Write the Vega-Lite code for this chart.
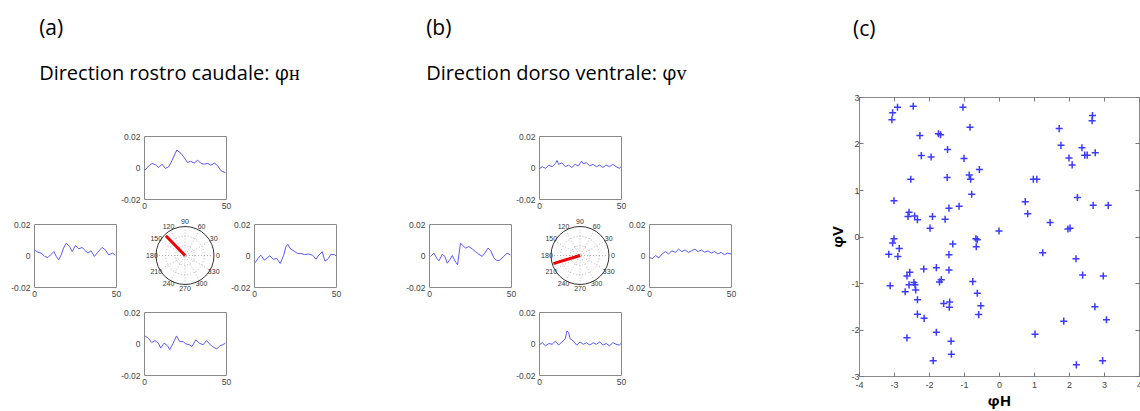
{
  "$schema": "https://vega.github.io/schema/vega-lite/v6.json",
  "background": "white",
  "padding": {"left": 10, "top": 18, "right": 0, "bottom": 0},
  "config": {
    "view": {"stroke": "#8a8a8a", "strokeWidth": 1},
    "axis": {"grid": false, "domain": false, "ticks": false, "title": null, "labelFont": "Liberation Sans", "labelColor": "#444", "labelFlush": false, "labelOverlap": false},
    "title": {"font": "Open Sans", "fontSize": 21, "fontWeight": "normal", "color": "black", "anchor": "start", "subtitleFont": "Open Sans", "subtitleFontSize": 20, "subtitleColor": "black", "subtitlePadding": 25}
  },
  "datasets": {
    "tr": [
      {"p":"ta","t":0.6,"v":-0.0017},{"p":"ta","t":3,"v":0.0011},{"p":"ta","t":5,"v":0.0026},{"p":"ta","t":7,"v":0.0017},{"p":"ta","t":9,"v":0.0},{"p":"ta","t":11,"v":0.0021},{"p":"ta","t":13,"v":-0.0006},{"p":"ta","t":15,"v":0.0004},{"p":"ta","t":17,"v":0.0043},{"p":"ta","t":20,"v":0.0111},{"p":"ta","t":22.5,"v":0.009},{"p":"ta","t":24.5,"v":0.0064},{"p":"ta","t":26.5,"v":0.0032},{"p":"ta","t":28.5,"v":0.0039},{"p":"ta","t":30.6,"v":0.0028},{"p":"ta","t":32.7,"v":0.0047},{"p":"ta","t":34.7,"v":0.0026},{"p":"ta","t":36.7,"v":0.0021},{"p":"ta","t":38.8,"v":0.0026},{"p":"ta","t":40.8,"v":0.0015},{"p":"ta","t":42.9,"v":0.0028},{"p":"ta","t":44.9,"v":0.0011},{"p":"ta","t":47,"v":-0.0021},{"p":"ta","t":49.6,"v":-0.0032},
      {"p":"la","t":0,"v":0.0036},{"p":"la","t":2.4,"v":0.0021},{"p":"la","t":4.5,"v":0.0015},{"p":"la","t":6.5,"v":-0.0006},{"p":"la","t":8.5,"v":-0.0013},{"p":"la","t":10.5,"v":0.0008},{"p":"la","t":12.1,"v":0.0025},{"p":"la","t":13.6,"v":-0.0006},{"p":"la","t":15,"v":-0.0028},{"p":"la","t":16.6,"v":0.0004},{"p":"la","t":18,"v":0.0047},{"p":"la","t":19.6,"v":0.0078},{"p":"la","t":21.7,"v":0.0057},{"p":"la","t":23.3,"v":0.0025},{"p":"la","t":25.3,"v":0.0064},{"p":"la","t":27.3,"v":0.0042},{"p":"la","t":29.3,"v":0.0051},{"p":"la","t":31.4,"v":0.003},{"p":"la","t":32.8,"v":0.0015},{"p":"la","t":34.8,"v":0.003},{"p":"la","t":36.8,"v":-0.0006},{"p":"la","t":38.9,"v":0.0021},{"p":"la","t":41.5,"v":0.0051},{"p":"la","t":43.5,"v":0.0036},{"p":"la","t":45.5,"v":0.0004},{"p":"la","t":48,"v":0.0015},{"p":"la","t":49.6,"v":0.0},
      {"p":"ra","t":0.6,"v":-0.0047},{"p":"ra","t":2.7,"v":-0.0015},{"p":"ra","t":4.2,"v":0.0002},{"p":"ra","t":6.3,"v":-0.003},{"p":"ra","t":8,"v":-0.0015},{"p":"ra","t":9.7,"v":-0.0002},{"p":"ra","t":11.8,"v":-0.0024},{"p":"ra","t":13.9,"v":-0.0019},{"p":"ra","t":16,"v":-0.0051},{"p":"ra","t":18.1,"v":0.0002},{"p":"ra","t":19.5,"v":0.0056},{"p":"ra","t":20.6,"v":0.0071},{"p":"ra","t":22.3,"v":0.0041},{"p":"ra","t":24.4,"v":0.0028},{"p":"ra","t":26.5,"v":0.0013},{"p":"ra","t":28.6,"v":0.0013},{"p":"ra","t":30.7,"v":0.0006},{"p":"ra","t":33.2,"v":0.0009},{"p":"ra","t":35.7,"v":0.0002},{"p":"ra","t":37.8,"v":-0.0024},{"p":"ra","t":39.5,"v":0.0002},{"p":"ra","t":41.6,"v":0.0024},{"p":"ra","t":43.3,"v":-0.0036},{"p":"ra","t":45.4,"v":-0.0019},{"p":"ra","t":46.8,"v":0.0006},{"p":"ra","t":48.9,"v":0.0006},{"p":"ra","t":50,"v":-0.0002},
      {"p":"ba","t":0.6,"v":0.0048},{"p":"ba","t":2.7,"v":0.0033},{"p":"ba","t":4.7,"v":0.0006},{"p":"ba","t":6.7,"v":0.0019},{"p":"ba","t":8.8,"v":0.0002},{"p":"ba","t":10.2,"v":-0.0029},{"p":"ba","t":12.2,"v":0.0002},{"p":"ba","t":14.3,"v":-0.0014},{"p":"ba","t":15.7,"v":-0.0039},{"p":"ba","t":17.8,"v":0.0002},{"p":"ba","t":19.8,"v":0.0048},{"p":"ba","t":21.8,"v":0.0012},{"p":"ba","t":23.9,"v":0.0012},{"p":"ba","t":25.5,"v":-0.0002},{"p":"ba","t":27.6,"v":-0.0008},{"p":"ba","t":29.2,"v":-0.0019},{"p":"ba","t":31.6,"v":0.0023},{"p":"ba","t":33.7,"v":0.0002},{"p":"ba","t":36.1,"v":-0.0008},{"p":"ba","t":38.2,"v":0.0019},{"p":"ba","t":39.8,"v":-0.0002},{"p":"ba","t":41.8,"v":-0.0019},{"p":"ba","t":44.3,"v":-0.0035},{"p":"ba","t":46.3,"v":-0.0014},{"p":"ba","t":48,"v":-0.0008},{"p":"ba","t":49.6,"v":0.0002},
      {"p":"tb","t":0,"v":-0.001},{"p":"tb","t":2,"v":0.0005},{"p":"tb","t":4,"v":-0.0005},{"p":"tb","t":6,"v":0.0015},{"p":"tb","t":8,"v":0.0005},{"p":"tb","t":10,"v":0.0025},{"p":"tb","t":11,"v":0.0045},{"p":"tb","t":12,"v":0.002},{"p":"tb","t":14,"v":0.003},{"p":"tb","t":16,"v":0.0005},{"p":"tb","t":18,"v":0.0015},{"p":"tb","t":20,"v":0.0},{"p":"tb","t":22,"v":0.002},{"p":"tb","t":24,"v":0.001},{"p":"tb","t":26,"v":0.004},{"p":"tb","t":27,"v":0.0025},{"p":"tb","t":29,"v":0.003},{"p":"tb","t":31,"v":0.001},{"p":"tb","t":33,"v":0.002},{"p":"tb","t":35,"v":0.0005},{"p":"tb","t":37,"v":0.0015},{"p":"tb","t":39,"v":0.0},{"p":"tb","t":41,"v":0.0015},{"p":"tb","t":43,"v":0.0005},{"p":"tb","t":45,"v":0.002},{"p":"tb","t":47,"v":0.0005},{"p":"tb","t":49,"v":-0.0005},{"p":"tb","t":50,"v":0.0005},
      {"p":"lb","t":1,"v":-0.0006},{"p":"lb","t":3,"v":0.0015},{"p":"lb","t":4.7,"v":-0.0017},{"p":"lb","t":6.1,"v":-0.0034},{"p":"lb","t":8.1,"v":0.0008},{"p":"lb","t":9.7,"v":-0.0006},{"p":"lb","t":11.1,"v":-0.0049},{"p":"lb","t":12.6,"v":-0.0028},{"p":"lb","t":14.2,"v":0.0},{"p":"lb","t":15.8,"v":-0.0034},{"p":"lb","t":17.4,"v":-0.0059},{"p":"lb","t":19.2,"v":0.0078},{"p":"lb","t":20.6,"v":0.0064},{"p":"lb","t":22.3,"v":0.0047},{"p":"lb","t":24.3,"v":0.0057},{"p":"lb","t":26.3,"v":0.0042},{"p":"lb","t":28.3,"v":0.0025},{"p":"lb","t":30.4,"v":0.0008},{"p":"lb","t":32.4,"v":-0.0006},{"p":"lb","t":34,"v":0.0015},{"p":"lb","t":36,"v":0.0047},{"p":"lb","t":37.7,"v":0.003},{"p":"lb","t":39.5,"v":-0.0013},{"p":"lb","t":41.5,"v":-0.0034},{"p":"lb","t":43.5,"v":-0.0028},{"p":"lb","t":45.5,"v":-0.0006},{"p":"lb","t":47.6,"v":0.0015},{"p":"lb","t":49.6,"v":0.0004},
      {"p":"rb","t":0,"v":-0.001},{"p":"rb","t":2,"v":-0.002},{"p":"rb","t":4,"v":0.0},{"p":"rb","t":6,"v":-0.0015},{"p":"rb","t":8,"v":0.001},{"p":"rb","t":10,"v":0.0025},{"p":"rb","t":12,"v":0.001},{"p":"rb","t":14,"v":0.003},{"p":"rb","t":16,"v":0.002},{"p":"rb","t":18,"v":0.004},{"p":"rb","t":20,"v":0.0025},{"p":"rb","t":22,"v":0.0035},{"p":"rb","t":24,"v":0.002},{"p":"rb","t":26,"v":0.003},{"p":"rb","t":28,"v":0.004},{"p":"rb","t":30,"v":0.0025},{"p":"rb","t":32,"v":0.0035},{"p":"rb","t":34,"v":0.002},{"p":"rb","t":36,"v":0.003},{"p":"rb","t":38,"v":0.0015},{"p":"rb","t":40,"v":0.0025},{"p":"rb","t":42,"v":0.001},{"p":"rb","t":44,"v":0.002},{"p":"rb","t":46,"v":0.0005},{"p":"rb","t":48,"v":0.0015},{"p":"rb","t":50,"v":0.001},
      {"p":"bb","t":0,"v":-0.001},{"p":"bb","t":2,"v":0.0005},{"p":"bb","t":4,"v":-0.0015},{"p":"bb","t":6,"v":0.0},{"p":"bb","t":8,"v":-0.0005},{"p":"bb","t":10,"v":0.0015},{"p":"bb","t":12,"v":-0.001},{"p":"bb","t":14,"v":0.001},{"p":"bb","t":16,"v":0.003},{"p":"bb","t":17,"v":0.008},{"p":"bb","t":18,"v":0.007},{"p":"bb","t":19,"v":0.003},{"p":"bb","t":21,"v":0.0015},{"p":"bb","t":23,"v":-0.001},{"p":"bb","t":25,"v":0.001},{"p":"bb","t":27,"v":-0.0005},{"p":"bb","t":29,"v":0.0005},{"p":"bb","t":31,"v":-0.001},{"p":"bb","t":33,"v":0.0005},{"p":"bb","t":35,"v":-0.0005},{"p":"bb","t":37,"v":0.001},{"p":"bb","t":39,"v":-0.001},{"p":"bb","t":41,"v":0.0},{"p":"bb","t":43,"v":-0.0015},{"p":"bb","t":45,"v":0.0005},{"p":"bb","t":47,"v":-0.0005},{"p":"bb","t":49,"v":-0.001},{"p":"bb","t":50,"v":0.0}
    ],
    "spokes": [
      {"x":-1,"y":0,"x2":1,"y2":0},{"x":-0.866,"y":-0.5,"x2":0.866,"y2":0.5},{"x":-0.5,"y":-0.866,"x2":0.5,"y2":0.866},
      {"x":0,"y":-1,"x2":0,"y2":1},{"x":0.5,"y":-0.866,"x2":-0.5,"y2":0.866},{"x":0.866,"y":-0.5,"x2":-0.866,"y2":0.5}
    ],
    "plabels": [
      {"l":"0","x":1.14,"y":0},{"l":"30","x":0.99,"y":0.57},{"l":"60","x":0.57,"y":0.99},{"l":"90","x":0,"y":1.14},
      {"l":"120","x":-0.57,"y":0.99},{"l":"150","x":-0.99,"y":0.57},{"l":"180","x":-1.14,"y":0},{"l":"210","x":-0.99,"y":-0.57},
      {"l":"240","x":-0.57,"y":-0.99},{"l":"270","x":0,"y":-1.14},{"l":"300","x":0.57,"y":-0.99},{"l":"330","x":0.99,"y":-0.57}
    ],
    "origin": [{"x":0,"y":0}],
    "sc": [
      {"h":-2.90,"v":2.78},{"h":-3.04,"v":2.66},{"h":-3.06,"v":2.51},{"h":-2.45,"v":2.80},{"h":-1.03,"v":2.78},{"h":-2.26,"v":2.17},{"h":-1.73,"v":2.21},{"h":-1.67,"v":2.19},{"h":-0.83,"v":2.35},{"h":-2.22,"v":1.74},{"h":-1.94,"v":1.71},{"h":-1.47,"v":1.87},{"h":-1.00,"v":1.68},{"h":-0.56,"v":1.44},{"h":-0.85,"v":1.32},{"h":-0.81,"v":1.23},{"h":-2.52,"v":1.23},{"h":-1.48,"v":1.27},{"h":-0.78,"v":0.91},{"h":-3.00,"v":0.77},{"h":-1.14,"v":0.65},{"h":-1.43,"v":0.61},{"h":-2.57,"v":0.52},{"h":-2.60,"v":0.43},{"h":-2.41,"v":0.44},{"h":-2.33,"v":0.36},{"h":-1.90,"v":0.43},{"h":-1.54,"v":0.37},{"h":-1.97,"v":0.18},{"h":-3.00,"v":-0.05},{"h":-3.04,"v":-0.14},{"h":-2.85,"v":-0.26},{"h":-3.15,"v":-0.38},{"h":-2.89,"v":-0.43},{"h":-1.32,"v":-0.16},{"h":-1.43,"v":-0.39},{"h":-0.66,"v":-0.05},{"h":-0.62,"v":-0.07},{"h":-0.65,"v":-0.22},{"h":-2.63,"v":-0.85},{"h":-2.55,"v":-0.77},{"h":-2.15,"v":-0.70},{"h":-1.79,"v":-0.67},{"h":-1.43,"v":-0.72},{"h":-2.43,"v":-0.99},{"h":-2.40,"v":-1.04},{"h":-2.57,"v":-1.04},{"h":-2.38,"v":-1.15},{"h":-2.68,"v":-1.19},{"h":-3.11,"v":-1.06},{"h":-1.70,"v":-0.98},{"h":-1.65,"v":-0.93},{"h":-0.75,"v":-0.97},{"h":-2.33,"v":-1.36},{"h":-1.58,"v":-1.44},{"h":-1.41,"v":-1.41},{"h":-1.42,"v":-1.52},{"h":-0.62,"v":-1.22},{"h":-0.52,"v":-1.49},{"h":-0.58,"v":-1.68},{"h":-2.33,"v":-1.67},{"h":-2.14,"v":-1.76},{"h":-2.63,"v":-2.18},{"h":-1.79,"v":-2.06},{"h":-1.37,"v":-2.25},{"h":-1.36,"v":-2.53},{"h":-1.88,"v":-2.67},{"h":0.00,"v":0.12},{"h":0.98,"v":1.23},{"h":1.08,"v":1.23},{"h":0.75,"v":0.75},{"h":0.82,"v":0.49},{"h":1.46,"v":0.30},{"h":1.25,"v":-0.35},{"h":1.03,"v":-2.10},{"h":1.72,"v":2.32},{"h":1.77,"v":1.96},{"h":2.00,"v":1.69},{"h":2.09,"v":1.54},{"h":2.37,"v":1.91},{"h":2.45,"v":1.75},{"h":2.52,"v":1.75},{"h":2.75,"v":1.80},{"h":2.67,"v":2.60},{"h":2.66,"v":2.49},{"h":2.24,"v":0.84},{"h":2.69,"v":0.67},{"h":3.12,"v":0.67},{"h":1.97,"v":0.16},{"h":2.03,"v":0.18},{"h":2.20,"v":-0.48},{"h":2.39,"v":-0.83},{"h":2.98,"v":-0.85},{"h":2.74,"v":-1.51},{"h":3.07,"v":-1.79},{"h":1.85,"v":-1.82},{"h":2.21,"v":-2.76},{"h":2.96,"v":-2.67}
    ]
  },
  "hconcat": [
    {
      "hconcat": [
        {
          "title": {"text": "(a)", "subtitle": "Direction rostro caudale: φʜ", "offset": 13, "dx": 29},
          "spacing": 0,
          "vconcat": [
            {"width": 82, "height": 34, "data": {"name": "origin"}, "mark": {"type": "point", "opacity": 0}, "encoding": {}, "view": {"stroke": null}},
            {
              "columns": 3, "spacing": {"row": 25, "column": 28}, "bounds": "flush",
              "concat": [
                {"width": 82, "height": 63, "data": {"name": "origin"}, "mark": {"type": "point", "opacity": 0}, "encoding": {}, "view": {"stroke": null}},
                {"width": 82, "height": 63, "data": {"name": "tr"}, "transform": [{"filter": "datum.p === 'ta'"}], "mark": {"type": "line", "color": "#5a5aff", "strokeWidth": 1}, "encoding": {"x": {"field": "t", "type": "quantitative", "scale": {"domain": [0, 50], "nice": false}, "axis": {"values": [0, 50], "labelFontSize": 8.5, "labelPadding": 2, "labelExpr": "'' + datum.value"}}, "y": {"field": "v", "type": "quantitative", "scale": {"domain": [-0.02, 0.02], "nice": false}, "axis": {"values": [-0.02, 0, 0.02], "labelFontSize": 8.5, "labelPadding": 4, "labelExpr": "'' + datum.value"}}}},
                {"width": 82, "height": 63, "data": {"name": "origin"}, "mark": {"type": "point", "opacity": 0}, "encoding": {}, "view": {"stroke": null}},
                {"width": 82, "height": 63, "data": {"name": "tr"}, "transform": [{"filter": "datum.p === 'la'"}], "mark": {"type": "line", "color": "#5a5aff", "strokeWidth": 1}, "encoding": {"x": {"field": "t", "type": "quantitative", "scale": {"domain": [0, 50], "nice": false}, "axis": {"values": [0, 50], "labelFontSize": 8.5, "labelPadding": 2, "labelExpr": "'' + datum.value"}}, "y": {"field": "v", "type": "quantitative", "scale": {"domain": [-0.02, 0.02], "nice": false}, "axis": {"values": [-0.02, 0, 0.02], "labelFontSize": 8.5, "labelPadding": 4, "labelExpr": "'' + datum.value"}}}},
                {
                  "width": 82, "height": 63, "view": {"stroke": null},
                  "encoding": {"x": {"field": "x", "type": "quantitative", "scale": {"domain": [-1.414, 1.414], "nice": false, "zero": false}, "axis": null}, "y": {"field": "y", "type": "quantitative", "scale": {"domain": [-1.086, 1.086], "nice": false, "zero": false}, "axis": null}},
                  "layer": [
                    {"data": {"name": "spokes"}, "mark": {"type": "rule", "color": "#999", "strokeWidth": 0.7, "strokeDash": [1, 2]}, "encoding": {"x2": {"field": "x2"}, "y2": {"field": "y2"}}},
                    {"data": {"name": "origin"}, "mark": {"type": "point", "shape": "circle", "filled": false, "size": 376, "color": "#999", "strokeWidth": 0.7, "strokeDash": [1, 2], "opacity": 1}},
                    {"data": {"name": "origin"}, "mark": {"type": "point", "shape": "circle", "filled": false, "size": 1490, "color": "#999", "strokeWidth": 0.7, "strokeDash": [1, 2], "opacity": 1}},
                    {"data": {"name": "origin"}, "mark": {"type": "point", "shape": "circle", "filled": false, "size": 3364, "color": "#333", "strokeWidth": 1, "opacity": 1}},
                    {"data": {"name": "plabels"}, "mark": {"type": "text", "fontSize": 7, "font": "Liberation Sans", "color": "#333"}, "encoding": {"text": {"field": "l"}}},
                    {"data": {"values": [{"x": 0, "y": 0, "x2": -0.66, "y2": 0.68}]}, "mark": {"type": "rule", "color": "#ee0000", "strokeWidth": 3}, "encoding": {"x2": {"field": "x2"}, "y2": {"field": "y2"}}}
                  ]
                },
                {"width": 82, "height": 63, "data": {"name": "tr"}, "transform": [{"filter": "datum.p === 'ra'"}], "mark": {"type": "line", "color": "#5a5aff", "strokeWidth": 1}, "encoding": {"x": {"field": "t", "type": "quantitative", "scale": {"domain": [0, 50], "nice": false}, "axis": {"values": [0, 50], "labelFontSize": 8.5, "labelPadding": 2, "labelExpr": "'' + datum.value"}}, "y": {"field": "v", "type": "quantitative", "scale": {"domain": [-0.02, 0.02], "nice": false}, "axis": {"values": [-0.02, 0, 0.02], "labelFontSize": 8.5, "labelPadding": 4, "labelExpr": "'' + datum.value"}}}},
                {"width": 82, "height": 63, "data": {"name": "origin"}, "mark": {"type": "point", "opacity": 0}, "encoding": {}, "view": {"stroke": null}},
                {"width": 82, "height": 63, "data": {"name": "tr"}, "transform": [{"filter": "datum.p === 'ba'"}], "mark": {"type": "line", "color": "#5a5aff", "strokeWidth": 1}, "encoding": {"x": {"field": "t", "type": "quantitative", "scale": {"domain": [0, 50], "nice": false}, "axis": {"values": [0, 50], "labelFontSize": 8.5, "labelPadding": 2, "labelExpr": "'' + datum.value"}}, "y": {"field": "v", "type": "quantitative", "scale": {"domain": [-0.02, 0.02], "nice": false}, "axis": {"values": [-0.02, 0, 0.02], "labelFontSize": 8.5, "labelPadding": 4, "labelExpr": "'' + datum.value"}}}},
                {"width": 82, "height": 63, "data": {"name": "origin"}, "mark": {"type": "point", "opacity": 0}, "encoding": {}, "view": {"stroke": null}}
              ]
            }
          ]
        },
        {
          "title": {"text": "(b)", "subtitle": "Direction dorso ventrale: φᴠ", "offset": 13, "dx": 21},
          "spacing": 0,
          "vconcat": [
            {"width": 82, "height": 34, "data": {"name": "origin"}, "mark": {"type": "point", "opacity": 0}, "encoding": {}, "view": {"stroke": null}},
            {
              "columns": 3, "spacing": {"row": 25, "column": 28}, "bounds": "flush",
              "concat": [
                {"width": 82, "height": 63, "data": {"name": "origin"}, "mark": {"type": "point", "opacity": 0}, "encoding": {}, "view": {"stroke": null}},
                {"width": 82, "height": 63, "data": {"name": "tr"}, "transform": [{"filter": "datum.p === 'tb'"}], "mark": {"type": "line", "color": "#5a5aff", "strokeWidth": 1}, "encoding": {"x": {"field": "t", "type": "quantitative", "scale": {"domain": [0, 50], "nice": false}, "axis": {"values": [0, 50], "labelFontSize": 8.5, "labelPadding": 2, "labelExpr": "'' + datum.value"}}, "y": {"field": "v", "type": "quantitative", "scale": {"domain": [-0.02, 0.02], "nice": false}, "axis": {"values": [-0.02, 0, 0.02], "labelFontSize": 8.5, "labelPadding": 4, "labelExpr": "'' + datum.value"}}}},
                {"width": 82, "height": 63, "data": {"name": "origin"}, "mark": {"type": "point", "opacity": 0}, "encoding": {}, "view": {"stroke": null}},
                {"width": 82, "height": 63, "data": {"name": "tr"}, "transform": [{"filter": "datum.p === 'lb'"}], "mark": {"type": "line", "color": "#5a5aff", "strokeWidth": 1}, "encoding": {"x": {"field": "t", "type": "quantitative", "scale": {"domain": [0, 50], "nice": false}, "axis": {"values": [0, 50], "labelFontSize": 8.5, "labelPadding": 2, "labelExpr": "'' + datum.value"}}, "y": {"field": "v", "type": "quantitative", "scale": {"domain": [-0.02, 0.02], "nice": false}, "axis": {"values": [-0.02, 0, 0.02], "labelFontSize": 8.5, "labelPadding": 4, "labelExpr": "'' + datum.value"}}}},
                {
                  "width": 82, "height": 63, "view": {"stroke": null},
                  "encoding": {"x": {"field": "x", "type": "quantitative", "scale": {"domain": [-1.414, 1.414], "nice": false, "zero": false}, "axis": null}, "y": {"field": "y", "type": "quantitative", "scale": {"domain": [-1.086, 1.086], "nice": false, "zero": false}, "axis": null}},
                  "layer": [
                    {"data": {"name": "spokes"}, "mark": {"type": "rule", "color": "#999", "strokeWidth": 0.7, "strokeDash": [1, 2]}, "encoding": {"x2": {"field": "x2"}, "y2": {"field": "y2"}}},
                    {"data": {"name": "origin"}, "mark": {"type": "point", "shape": "circle", "filled": false, "size": 376, "color": "#999", "strokeWidth": 0.7, "strokeDash": [1, 2], "opacity": 1}},
                    {"data": {"name": "origin"}, "mark": {"type": "point", "shape": "circle", "filled": false, "size": 1490, "color": "#999", "strokeWidth": 0.7, "strokeDash": [1, 2], "opacity": 1}},
                    {"data": {"name": "origin"}, "mark": {"type": "point", "shape": "circle", "filled": false, "size": 3364, "color": "#333", "strokeWidth": 1, "opacity": 1}},
                    {"data": {"name": "plabels"}, "mark": {"type": "text", "fontSize": 7, "font": "Liberation Sans", "color": "#333"}, "encoding": {"text": {"field": "l"}}},
                    {"data": {"values": [{"x": 0, "y": 0, "x2": -0.918, "y2": -0.281}]}, "mark": {"type": "rule", "color": "#ee0000", "strokeWidth": 3}, "encoding": {"x2": {"field": "x2"}, "y2": {"field": "y2"}}}
                  ]
                },
                {"width": 82, "height": 63, "data": {"name": "tr"}, "transform": [{"filter": "datum.p === 'rb'"}], "mark": {"type": "line", "color": "#5a5aff", "strokeWidth": 1}, "encoding": {"x": {"field": "t", "type": "quantitative", "scale": {"domain": [0, 50], "nice": false}, "axis": {"values": [0, 50], "labelFontSize": 8.5, "labelPadding": 2, "labelExpr": "'' + datum.value"}}, "y": {"field": "v", "type": "quantitative", "scale": {"domain": [-0.02, 0.02], "nice": false}, "axis": {"values": [-0.02, 0, 0.02], "labelFontSize": 8.5, "labelPadding": 4, "labelExpr": "'' + datum.value"}}}},
                {"width": 82, "height": 63, "data": {"name": "origin"}, "mark": {"type": "point", "opacity": 0}, "encoding": {}, "view": {"stroke": null}},
                {"width": 82, "height": 63, "data": {"name": "tr"}, "transform": [{"filter": "datum.p === 'bb'"}], "mark": {"type": "line", "color": "#5a5aff", "strokeWidth": 1}, "encoding": {"x": {"field": "t", "type": "quantitative", "scale": {"domain": [0, 50], "nice": false}, "axis": {"values": [0, 50], "labelFontSize": 8.5, "labelPadding": 2, "labelExpr": "'' + datum.value"}}, "y": {"field": "v", "type": "quantitative", "scale": {"domain": [-0.02, 0.02], "nice": false}, "axis": {"values": [-0.02, 0, 0.02], "labelFontSize": 8.5, "labelPadding": 4, "labelExpr": "'' + datum.value"}}}},
                {"width": 82, "height": 63, "data": {"name": "origin"}, "mark": {"type": "point", "opacity": 0}, "encoding": {}, "view": {"stroke": null}}
              ]
            }
          ]
        }
      ],
      "spacing": 63
    },
    {
      "width": 280, "height": 279,
      "title": {"text": "(c)", "offset": 53, "dx": 22},
      "data": {"name": "sc"},
      "layer": [
        {
          "mark": {"type": "point", "shape": "M-1,0H1M0,-1V1", "filled": false, "color": "#3b3bff", "strokeWidth": 1.5, "size": 50, "opacity": 1},
          "encoding": {
            "x": {"field": "h", "type": "quantitative", "scale": {"domain": [-4, 4], "nice": false}, "axis": {"values": [-4, -3, -2, -1, 0, 1, 2, 3, 4], "labelFontSize": 9, "labelPadding": 8, "labelExpr": "'' + datum.value", "ticks": true, "tickSize": -4, "tickColor": "#777", "title": "φH", "titleFont": "Open Sans", "titleFontSize": 15, "titleFontWeight": "bold", "titleColor": "black", "titlePadding": 4}},
            "y": {"field": "v", "type": "quantitative", "scale": {"domain": [-3, 3], "nice": false}, "axis": {"values": [-3, -2, -1, 0, 1, 2, 3], "labelFontSize": 9, "labelPadding": 4, "labelExpr": "'' + datum.value", "ticks": true, "tickSize": -4, "tickColor": "#777", "title": "φV", "titleFont": "Open Sans", "titleFontSize": 15, "titleFontWeight": "bold", "titleColor": "black", "titlePadding": 5}}
          }
        },
        {
          "mark": {"type": "point", "opacity": 0},
          "encoding": {
            "x": {"field": "h", "type": "quantitative", "axis": {"orient": "top", "values": [-4, -3, -2, -1, 0, 1, 2, 3, 4], "labels": false, "ticks": true, "tickSize": -4, "tickColor": "#777"}},
            "y": {"field": "v", "type": "quantitative", "axis": {"orient": "right", "values": [-3, -2, -1, 0, 1, 2, 3], "labels": false, "ticks": true, "tickSize": -4, "tickColor": "#777"}}
          }
        }
      ],
      "resolve": {"axis": {"x": "independent", "y": "independent"}}
    }
  ],
  "spacing": 93
}
